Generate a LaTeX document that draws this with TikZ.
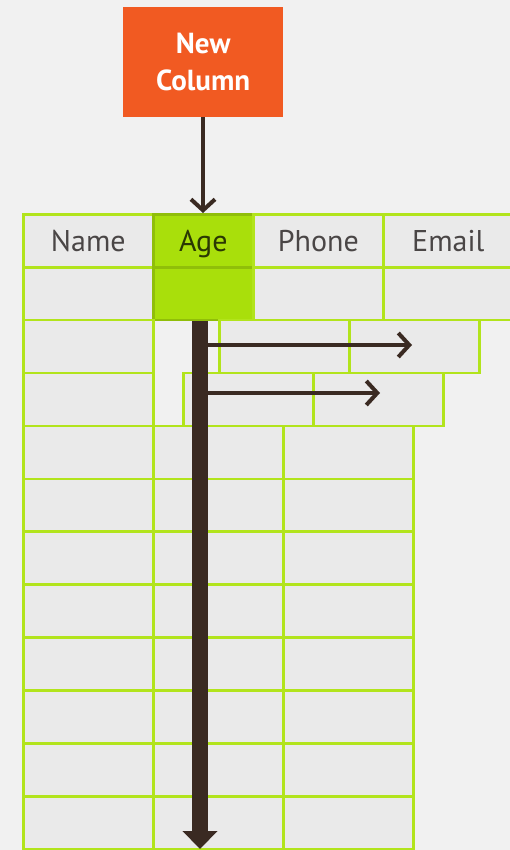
\documentclass[tikz,border=0pt]{standalone}
\usepackage{fontspec}
\setmainfont{PT Sans}
\usetikzlibrary{arrows.meta}
\definecolor{bg}{HTML}{F1F1F1}
\definecolor{cellfill}{HTML}{EAEAEA}
\definecolor{cellline}{HTML}{B2E41C}
\definecolor{agegreen}{HTML}{A9DF0B}
\definecolor{orangebox}{HTML}{F15A22}
\definecolor{darkarrow}{HTML}{3A2A22}
\definecolor{headtext}{HTML}{4A4646}
\tikzset{
  cell/.style={draw=cellline, fill=cellfill, line width=2.6pt, anchor=north west,
    minimum width=130pt, minimum height=52.9pt, inner sep=0pt,
    text height=23pt, text depth=2pt,
    font=\fontsize{30}{34}\selectfont, text=headtext},
  agecell/.style={cell, fill=agegreen, draw=agegreen!85!black, minimum width=100pt, text=black!75!agegreen},
  newcol/.style={fill=orangebox, draw=none, minimum width=160pt, minimum height=110pt,
    anchor=north west, text=white, align=center,
    font=\bfseries\fontsize{29}{37}\selectfont},
  thinarrow/.style={draw=darkarrow, line width=4pt, -{Straight Barb[length=11pt,width=24pt,line width=4pt]}},
  thickarrow/.style={draw=darkarrow, line width=16pt, -{Triangle[length=18pt,width=34pt]}}
}
\begin{document}
\begin{tikzpicture}[x=1pt,y=-1pt]
\fill[bg] (0,0) rectangle (510,850);
\useasboundingbox (0,0) rectangle (510,850);
\clip (0,0) rectangle (510,850);
% header rows
\node[cell] (name) at (22,213) {Name};
\node[agecell] (age) at (152,213) {Age};
\node[cell] (phone) at (252,213) {Phone};
\node[cell] (email) at (382,213) {Email};
\node[cell] (name1) at (22,265.9) {};
\node[agecell] (age1) at (152,265.9) {};
\node[cell] (phone1) at (252,265.9) {};
\node[cell] (email1) at (382,265.9) {};
% shifting rows
\node[cell] (name2) at (22,318.8) {};
\node[cell] (a2) at (218,318.8) {};
\node[cell] (b2) at (348,318.8) {};
\node[cell] (name3) at (22,371.7) {};
\node[cell] (a3) at (182,371.7) {};
\node[cell] (b3) at (312,371.7) {};
% remaining rows
\foreach \i in {4,...,11}{
  \pgfmathsetmacro{\yy}{213+52.9*\i}
  \node[cell] (n\i) at (22,\yy) {};
  \node[cell] (p\i) at (152,\yy) {};
  \node[cell] (q\i) at (282,\yy) {};
}
% new column box
\node[newcol] (new) at (123,7) {New\\Column};
\draw[thinarrow] (new.south -| 203,0) -- (age.north -| 203,0);
% horizontal arrows
\coordinate (h1s) at (204,345);
\coordinate (h1e) at (412,345);
\coordinate (h2s) at (204,393);
\coordinate (h2e) at (380,393);
\draw[thinarrow] (h1s) -- (h1e);
\draw[thinarrow] (h2s) -- (h2e);
% thick vertical arrow
\coordinate (vend) at (200,849);
\draw[thickarrow] (age1.south -| 200,0) -- (vend);
\end{tikzpicture}
\end{document}
